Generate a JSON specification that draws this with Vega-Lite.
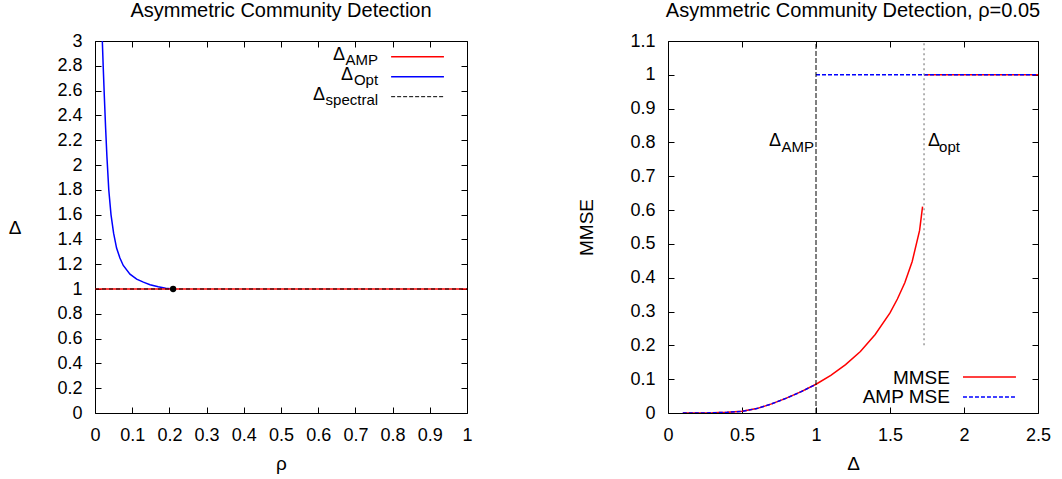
{
  "$schema": "https://vega.github.io/schema/vega-lite/v6.json",
  "background": "white",
  "padding": {"left": 8, "top": 1, "right": 5, "bottom": 5},
  "spacing": 104,
  "config": {
    "view": {"stroke": null},
    "font": "Liberation Sans",
    "axis": {
      "grid": false,
      "domainColor": "black",
      "domainWidth": 1,
      "tickColor": "black",
      "tickWidth": 1,
      "tickSize": -6,
      "labelFont": "Liberation Sans",
      "labelFontSize": 18,
      "labelColor": "black",
      "labelPadding": 19,
      "labelFlush": false,
      "labelOverlap": false,
      "titleFont": "Liberation Sans",
      "titleFontSize": 19,
      "titleFontWeight": "normal",
      "titleColor": "black",
      "format": "~g"
    },
    "title": {"font": "Liberation Sans", "fontSize": 20, "fontWeight": "normal", "color": "black", "offset": 11}
  },
  "datasets": {
    "opt": [
      {"rho": 0.0197, "delta": 3.0},
      {"rho": 0.022, "delta": 2.8},
      {"rho": 0.025, "delta": 2.56},
      {"rho": 0.0285, "delta": 2.3},
      {"rho": 0.032, "delta": 2.07},
      {"rho": 0.037, "delta": 1.8},
      {"rho": 0.043, "delta": 1.6},
      {"rho": 0.05, "delta": 1.45},
      {"rho": 0.058, "delta": 1.33},
      {"rho": 0.067, "delta": 1.25},
      {"rho": 0.076, "delta": 1.19},
      {"rho": 0.094, "delta": 1.12},
      {"rho": 0.112, "delta": 1.08},
      {"rho": 0.13, "delta": 1.055},
      {"rho": 0.148, "delta": 1.035},
      {"rho": 0.17, "delta": 1.018},
      {"rho": 0.19, "delta": 1.006},
      {"rho": 0.21, "delta": 1.0}
    ],
    "point": [{"rho": 0.21, "delta": 1.0}],
    "mmse": [
      {"d": 0.1, "mse": 0.0, "seg": "low"},
      {"d": 0.2, "mse": 0.0, "seg": "low"},
      {"d": 0.3, "mse": 0.0005, "seg": "low"},
      {"d": 0.4, "mse": 0.002, "seg": "low"},
      {"d": 0.5, "mse": 0.005, "seg": "low"},
      {"d": 0.6, "mse": 0.013, "seg": "low"},
      {"d": 0.7, "mse": 0.027, "seg": "low"},
      {"d": 0.8, "mse": 0.044, "seg": "low"},
      {"d": 0.9, "mse": 0.063, "seg": "low"},
      {"d": 1.0, "mse": 0.085, "seg": "low"},
      {"d": 1.1, "mse": 0.111, "seg": "low"},
      {"d": 1.2, "mse": 0.143, "seg": "low"},
      {"d": 1.3, "mse": 0.182, "seg": "low"},
      {"d": 1.4, "mse": 0.232, "seg": "low"},
      {"d": 1.5, "mse": 0.296, "seg": "low"},
      {"d": 1.55, "mse": 0.337, "seg": "low"},
      {"d": 1.6, "mse": 0.385, "seg": "low"},
      {"d": 1.65, "mse": 0.448, "seg": "low"},
      {"d": 1.7, "mse": 0.54, "seg": "low"},
      {"d": 1.72, "mse": 0.61, "seg": "low"},
      {"d": 1.73, "mse": 1.0, "seg": "high"},
      {"d": 2.5, "mse": 1.0, "seg": "high"}
    ],
    "amp": [
      {"d": 0.1, "mse": 0.0, "seg": "low"},
      {"d": 0.2, "mse": 0.0, "seg": "low"},
      {"d": 0.3, "mse": 0.0005, "seg": "low"},
      {"d": 0.4, "mse": 0.002, "seg": "low"},
      {"d": 0.5, "mse": 0.005, "seg": "low"},
      {"d": 0.6, "mse": 0.013, "seg": "low"},
      {"d": 0.7, "mse": 0.027, "seg": "low"},
      {"d": 0.8, "mse": 0.044, "seg": "low"},
      {"d": 0.9, "mse": 0.063, "seg": "low"},
      {"d": 1.0, "mse": 0.085, "seg": "low"},
      {"d": 1.0, "mse": 1.0, "seg": "high"},
      {"d": 2.5, "mse": 1.0, "seg": "high"}
    ],
    "one": [{}]
  },
  "hconcat": [
    {
      "width": 372,
      "height": 372,
      "title": {"text": "Asymmetric Community Detection"},
      "resolve": {"axis": {"x": "independent", "y": "independent"}},
      "layer": [
        {
          "data": {"name": "opt"},
          "mark": {"type": "line", "color": "#0000ff", "strokeWidth": 1.5, "clip": true},
          "encoding": {
            "x": {"field": "rho", "type": "quantitative",
                  "scale": {"domain": [0, 1], "nice": false, "zero": false},
                  "axis": {"orient": "bottom", "values": [0, 0.1, 0.2, 0.3, 0.4, 0.5, 0.6, 0.7, 0.8, 0.9, 1], "title": "ρ", "titlePadding": 10}},
            "y": {"field": "delta", "type": "quantitative",
                  "scale": {"domain": [0, 3], "nice": false, "zero": false},
                  "axis": {"orient": "left", "values": [0, 0.2, 0.4, 0.6, 0.8, 1, 1.2, 1.4, 1.6, 1.8, 2, 2.2, 2.4, 2.6, 2.8, 3], "title": "Δ", "titleAngle": 0, "titleAlign": "right", "titleBaseline": "middle", "titlePadding": 36}}
          }
        },
        {
          "data": {"name": "one"},
          "mark": {"type": "rule", "color": "#ff0000", "strokeWidth": 1.5},
          "encoding": {
            "x": {"datum": 0, "type": "quantitative", "axis": null},
            "x2": {"datum": 1},
            "y": {"datum": 1, "type": "quantitative", "axis": null}
          }
        },
        {
          "data": {"name": "one"},
          "mark": {"type": "rule", "color": "black", "strokeWidth": 1, "strokeDash": [4, 3]},
          "encoding": {
            "x": {"datum": 0, "type": "quantitative",
                  "axis": {"orient": "top", "values": [0, 0.1, 0.2, 0.3, 0.4, 0.5, 0.6, 0.7, 0.8, 0.9, 1], "labels": false, "title": null}},
            "x2": {"datum": 1},
            "y": {"datum": 1, "type": "quantitative",
                  "axis": {"orient": "right", "values": [0, 0.2, 0.4, 0.6, 0.8, 1, 1.2, 1.4, 1.6, 1.8, 2, 2.2, 2.4, 2.6, 2.8, 3], "labels": false, "title": null}}
          }
        },
        {
          "data": {"name": "point"},
          "mark": {"type": "point", "filled": true, "color": "black", "size": 40, "opacity": 1},
          "encoding": {
            "x": {"field": "rho", "type": "quantitative", "axis": null},
            "y": {"field": "delta", "type": "quantitative", "axis": null}
          }
        },
        {
          "data": {"name": "one"},
          "mark": {"type": "rule", "color": "#ff0000", "strokeWidth": 1.5},
          "encoding": {
            "x": {"datum": 0.796, "type": "quantitative", "axis": null},
            "x2": {"datum": 0.938},
            "y": {"datum": 2.873, "type": "quantitative", "axis": null}
          }
        },
        {
          "data": {"name": "one"},
          "mark": {"type": "rule", "color": "#0000ff", "strokeWidth": 1.5},
          "encoding": {
            "x": {"datum": 0.796, "type": "quantitative", "axis": null},
            "x2": {"datum": 0.938},
            "y": {"datum": 2.712, "type": "quantitative", "axis": null}
          }
        },
        {
          "data": {"name": "one"},
          "mark": {"type": "rule", "color": "black", "strokeWidth": 1, "strokeDash": [4, 2]},
          "encoding": {
            "x": {"datum": 0.796, "type": "quantitative", "axis": null},
            "x2": {"datum": 0.938},
            "y": {"datum": 2.551, "type": "quantitative", "axis": null}
          }
        },
        {
          "data": {"name": "one"},
          "mark": {"type": "text", "text": "Δ", "align": "right", "baseline": "alphabetic", "dx": -33, "fontSize": 18, "font": "Liberation Sans", "color": "black"},
          "encoding": {
            "x": {"datum": 0.761, "type": "quantitative", "axis": null},
            "y": {"datum": 2.847, "type": "quantitative", "axis": null}
          }
        },
        {
          "data": {"name": "one"},
          "mark": {"type": "text", "text": "AMP", "align": "right", "baseline": "alphabetic", "dy": 5, "fontSize": 15, "font": "Liberation Sans", "color": "black"},
          "encoding": {
            "x": {"datum": 0.761, "type": "quantitative", "axis": null},
            "y": {"datum": 2.847, "type": "quantitative", "axis": null}
          }
        },
        {
          "data": {"name": "one"},
          "mark": {"type": "text", "text": "Δ", "align": "right", "baseline": "alphabetic", "dx": -25, "fontSize": 18, "font": "Liberation Sans", "color": "black"},
          "encoding": {
            "x": {"datum": 0.761, "type": "quantitative", "axis": null},
            "y": {"datum": 2.685, "type": "quantitative", "axis": null}
          }
        },
        {
          "data": {"name": "one"},
          "mark": {"type": "text", "text": "Opt", "align": "right", "baseline": "alphabetic", "dy": 5, "fontSize": 15, "font": "Liberation Sans", "color": "black"},
          "encoding": {
            "x": {"datum": 0.761, "type": "quantitative", "axis": null},
            "y": {"datum": 2.685, "type": "quantitative", "axis": null}
          }
        },
        {
          "data": {"name": "one"},
          "mark": {"type": "text", "text": "Δ", "align": "right", "baseline": "alphabetic", "dx": -53, "fontSize": 18, "font": "Liberation Sans", "color": "black"},
          "encoding": {
            "x": {"datum": 0.761, "type": "quantitative", "axis": null},
            "y": {"datum": 2.524, "type": "quantitative", "axis": null}
          }
        },
        {
          "data": {"name": "one"},
          "mark": {"type": "text", "text": "spectral", "align": "right", "baseline": "alphabetic", "dy": 5, "fontSize": 15, "font": "Liberation Sans", "color": "black"},
          "encoding": {
            "x": {"datum": 0.761, "type": "quantitative", "axis": null},
            "y": {"datum": 2.524, "type": "quantitative", "axis": null}
          }
        }
      ]
    },
    {
      "width": 370,
      "height": 372,
      "title": {"text": "Asymmetric Community Detection, ρ=0.05"},
      "resolve": {"axis": {"x": "independent", "y": "independent"}},
      "layer": [
        {
          "data": {"name": "mmse"},
          "mark": {"type": "line", "color": "#ff0000", "strokeWidth": 1.5, "clip": true},
          "encoding": {
            "x": {"field": "d", "type": "quantitative",
                  "scale": {"domain": [0, 2.5], "nice": false, "zero": false},
                  "axis": {"orient": "bottom", "values": [0, 0.5, 1, 1.5, 2, 2.5], "title": "Δ", "titlePadding": 10}},
            "y": {"field": "mse", "type": "quantitative",
                  "scale": {"domain": [0, 1.1], "nice": false, "zero": false},
                  "axis": {"orient": "left", "values": [0, 0.1, 0.2, 0.3, 0.4, 0.5, 0.6, 0.7, 0.8, 0.9, 1, 1.1], "title": "MMSE", "titlePadding": 33}},
            "detail": {"field": "seg", "type": "nominal"}
          }
        },
        {
          "data": {"name": "amp"},
          "mark": {"type": "line", "color": "#0000ff", "strokeWidth": 1.5, "strokeDash": [4, 2], "clip": true},
          "encoding": {
            "x": {"field": "d", "type": "quantitative", "axis": null},
            "y": {"field": "mse", "type": "quantitative", "axis": null},
            "detail": {"field": "seg", "type": "nominal"}
          }
        },
        {
          "data": {"name": "one"},
          "mark": {"type": "rule", "color": "black", "strokeWidth": 1, "strokeDash": [5, 2]},
          "encoding": {
            "x": {"datum": 1, "type": "quantitative",
                  "axis": {"orient": "top", "values": [0, 0.5, 1, 1.5, 2, 2.5], "labels": false, "title": null}},
            "y": {"datum": 0, "type": "quantitative",
                  "axis": {"orient": "right", "values": [0, 0.1, 0.2, 0.3, 0.4, 0.5, 0.6, 0.7, 0.8, 0.9, 1, 1.1], "labels": false, "title": null}},
            "y2": {"datum": 1.1}
          }
        },
        {
          "data": {"name": "one"},
          "mark": {"type": "rule", "color": "#808080", "strokeWidth": 1.2, "strokeDash": [2, 3]},
          "encoding": {
            "x": {"datum": 1.73, "type": "quantitative", "axis": null},
            "y": {"datum": 0.2, "type": "quantitative", "axis": null},
            "y2": {"datum": 1.1}
          }
        },
        {
          "data": {"name": "one"},
          "mark": {"type": "text", "text": "Δ", "align": "right", "baseline": "alphabetic", "dx": -33, "fontSize": 18, "font": "Liberation Sans", "color": "black"},
          "encoding": {
            "x": {"datum": 0.986, "type": "quantitative", "axis": null},
            "y": {"datum": 0.789, "type": "quantitative", "axis": null}
          }
        },
        {
          "data": {"name": "one"},
          "mark": {"type": "text", "text": "AMP", "align": "right", "baseline": "alphabetic", "dy": 6, "fontSize": 15, "font": "Liberation Sans", "color": "black"},
          "encoding": {
            "x": {"datum": 0.986, "type": "quantitative", "axis": null},
            "y": {"datum": 0.789, "type": "quantitative", "axis": null}
          }
        },
        {
          "data": {"name": "one"},
          "mark": {"type": "text", "text": "Δ", "align": "left", "baseline": "alphabetic", "fontSize": 18, "font": "Liberation Sans", "color": "black"},
          "encoding": {
            "x": {"datum": 1.757, "type": "quantitative", "axis": null},
            "y": {"datum": 0.789, "type": "quantitative", "axis": null}
          }
        },
        {
          "data": {"name": "one"},
          "mark": {"type": "text", "text": "opt", "align": "left", "baseline": "alphabetic", "dx": 11, "dy": 6, "fontSize": 15, "font": "Liberation Sans", "color": "black"},
          "encoding": {
            "x": {"datum": 1.757, "type": "quantitative", "axis": null},
            "y": {"datum": 0.789, "type": "quantitative", "axis": null}
          }
        },
        {
          "data": {"name": "one"},
          "mark": {"type": "text", "text": "MMSE", "align": "right", "baseline": "alphabetic", "fontSize": 19, "font": "Liberation Sans", "color": "black"},
          "encoding": {
            "x": {"datum": 1.905, "type": "quantitative", "axis": null},
            "y": {"datum": 0.0857, "type": "quantitative", "axis": null}
          }
        },
        {
          "data": {"name": "one"},
          "mark": {"type": "text", "text": "AMP MSE", "align": "right", "baseline": "alphabetic", "fontSize": 19, "font": "Liberation Sans", "color": "black"},
          "encoding": {
            "x": {"datum": 1.905, "type": "quantitative", "axis": null},
            "y": {"datum": 0.0296, "type": "quantitative", "axis": null}
          }
        },
        {
          "data": {"name": "one"},
          "mark": {"type": "rule", "color": "#ff0000", "strokeWidth": 1.5},
          "encoding": {
            "x": {"datum": 1.993, "type": "quantitative", "axis": null},
            "x2": {"datum": 2.351},
            "y": {"datum": 0.1064, "type": "quantitative", "axis": null}
          }
        },
        {
          "data": {"name": "one"},
          "mark": {"type": "rule", "color": "#0000ff", "strokeWidth": 1.5, "strokeDash": [4, 2]},
          "encoding": {
            "x": {"datum": 1.993, "type": "quantitative", "axis": null},
            "x2": {"datum": 2.351},
            "y": {"datum": 0.0473, "type": "quantitative", "axis": null}
          }
        }
      ]
    }
  ]
}
